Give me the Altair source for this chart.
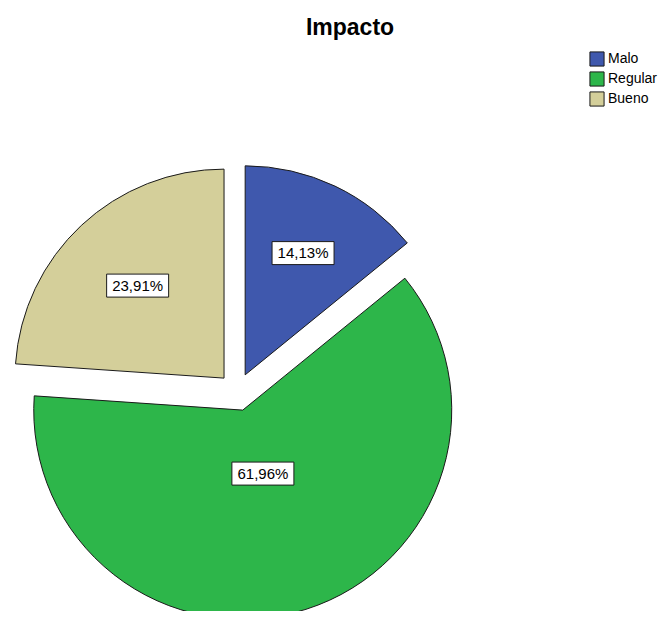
import altair as alt
import pandas as pd

categories = ["Malo", "Regular", "Bueno"]
counts = [13, 57, 22]
colors = ["#3F58AD", "#2DB64A", "#D4CF9A"]

# styling constants
CX, CY = 229, 344     # pie centre in plot coordinates
R = 209               # pie radius
EXPLODE = 19          # explode distance for every slice
BOX_W, BOX_H = 62, 23

df = pd.DataFrame({"cat": categories, "n": counts, "order": list(range(len(categories)))})

base = alt.Chart(df).transform_joinaggregate(
    total="sum(n)"
).transform_window(
    cum="sum(n)", sort=[alt.SortField("order")], frame=[None, 0]
).transform_calculate(
    pct="datum.n / datum.total * 100",
    a0="(datum.cum - datum.n) / datum.total * 2 * PI",
    a1="datum.cum / datum.total * 2 * PI",
).transform_calculate(
    mid="(datum.a0 + datum.a1) / 2",
    half="(datum.a1 - datum.a0) / 2",
).transform_calculate(
    cx=f"{CX} + {EXPLODE} * sin(datum.mid)",
    cy=f"{CY} - {EXPLODE} * cos(datum.mid)",
    lr=f"2 * {R} * sin(datum.half) / (3 * datum.half)",
).transform_calculate(
    lx="datum.cx + datum.lr * sin(datum.mid)",
    ly="datum.cy - datum.lr * cos(datum.mid)",
    label="replace(format(datum.pct, '.2f'), '.', ',') + '%'",
).transform_calculate(
    bx0=f"datum.lx - {BOX_W / 2}",
    bx1=f"datum.lx + {BOX_W / 2}",
    by0=f"datum.ly - {BOX_H / 2}",
    by1=f"datum.ly + {BOX_H / 2}",
)

arcs = base.mark_arc(radius=R, stroke="#1a1a1a", strokeWidth=1).encode(
    x=alt.X("cx:Q", scale=None),
    y=alt.Y("cy:Q", scale=None),
    theta=alt.Theta("a0:Q", scale=None),
    theta2="a1:Q",
    color=alt.Color(
        "cat:N",
        scale=alt.Scale(domain=categories, range=colors),
        sort=categories,
        legend=alt.Legend(
            title=None,
            orient="none",
            legendX=581,
            legendY=3,
            symbolType="square",
            symbolSize=200,
            symbolStrokeColor="#1a1a1a",
            symbolStrokeWidth=1,
            symbolOpacity=1,
            labelFont="Liberation Sans",
            labelFontSize=14,
            labelColor="#000000",
            rowPadding=0,
            labelOffset=3,
        ),
    ),
)

boxes = base.mark_rect(fill="white", stroke="#1a1a1a", strokeWidth=1).encode(
    x=alt.X("bx0:Q", scale=None),
    x2="bx1:Q",
    y=alt.Y("by0:Q", scale=None),
    y2="by1:Q",
)

texts = base.mark_text(
    font="Liberation Sans", fontSize=15, color="#000000", align="center", baseline="middle"
).encode(
    x=alt.X("lx:Q", scale=None),
    y=alt.Y("ly:Q", scale=None),
    text="label:N",
)

chart = alt.layer(arcs, boxes, texts).properties(
    width=650,
    height=563,
    padding={"left": 0, "top": 40, "right": 0, "bottom": 0},
    autosize=alt.AutoSizeParams(type="none"),
    title=alt.Title(
        "Impacto",
        font="Liberation Sans",
        fontSize=23,
        fontWeight="bold",
        color="#000000",
        anchor="middle",
        frame="group",
        dx=17,
        offset=8,
    ),
).configure_view(stroke=None)

chart.save("out.html", embed_options={"renderer": "svg", "actions": False})
